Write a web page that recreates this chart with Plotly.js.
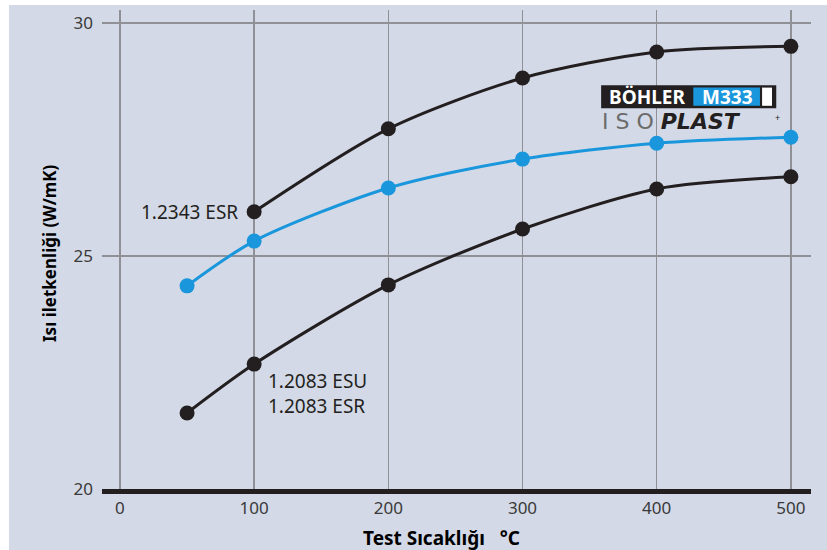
<!DOCTYPE html>
<html>
<head>
<meta charset="utf-8">
<script src="https://cdn.plot.ly/plotly-3.0.1.min.js"></script>
<style>
html,body{margin:0;padding:0;background:#ffffff;}
#chart{position:absolute;left:9px;top:5px;width:818px;height:545px;}
</style>
</head>
<body>
<div id="chart"></div>
<script>
// Data
const tempTop = [100, 200, 300, 400, 500];
const valTop = [25.95, 27.73, 28.82, 29.38, 29.50];          // 1.2343 ESR
const tempBlue = [50, 100, 200, 300, 400, 500];
const valBlue = [24.36, 25.32, 26.46, 27.08, 27.42, 27.55];   // BÖHLER M333 ISOPLAST
const tempLow = [50, 100, 200, 300, 400, 500];
const valLow = [21.63, 22.68, 24.38, 25.58, 26.44, 26.70];    // 1.2083 ESU / ESR
const xTicks = [0, 100, 200, 300, 400, 500];
const yTicks = [20, 25, 30];
const labelTop = "1.2343 ESR";
const labelLow = "1.2083 ESU<br>1.2083 ESR";
const xTitle = "Test Sıcaklığı   °C";
const yTitle = "Isı iletkenliği (W/mK)";

const BLACK = "#231f20";
const BLUE = "#1a97dc";
const BG = "#d3d9e6";
const FONT = "Noto Sans, Open Sans, sans-serif";

function series(x, y, color) {
  return {
    x: x, y: y, type: "scatter", mode: "lines+markers",
    line: {color: color, width: 3, shape: "spline", smoothing: 0.8},
    marker: {color: color, size: 15},
    hoverinfo: "skip", showlegend: false
  };
}

const data = [
  series(tempLow, valLow, BLACK),
  series(tempTop, valTop, BLACK),
  series(tempBlue, valBlue, BLUE)
];

const layout = {
  width: 818, height: 545,
  paper_bgcolor: BG, plot_bgcolor: BG,
  margin: {l: 93, r: 16, t: 5, b: 61, pad: 0},
  font: {family: FONT, color: "#3a3a3a", size: 17},
  showlegend: false,
  xaxis: {
    range: [-13.4, 515], tickvals: xTicks, ticktext: xTicks.map(String),
    showgrid: true, gridcolor: "#8f9196", gridwidth: 1.5,
    zeroline: false, showline: true, linecolor: BLACK, linewidth: 5,
    ticks: "", ticklen: 0, tickfont: {family: FONT, size: 17, color: "#3a3a3a"},
    fixedrange: true
  },
  yaxis: {
    range: [20, 30.28], tickvals: yTicks, ticktext: yTicks.map(String),
    showgrid: true, gridcolor: "#8f9196", gridwidth: 1.5,
    zeroline: false, showline: false,
    ticks: "", ticklabelstandoff: 8, tickfont: {family: FONT, size: 17, color: "#3a3a3a"},
    fixedrange: true
  },
  shapes: [
    // logo black bar
    {type: "rect", xref: "paper", yref: "paper", x0: 0.704, x1: 0.951, y0: 0.795, y1: 0.843, fillcolor: BLACK, line: {width: 0}},
    {type: "rect", xref: "paper", yref: "paper", x0: 0.834, x1: 0.928, y0: 0.800, y1: 0.838, fillcolor: BLUE, line: {width: 0}},
    {type: "rect", xref: "paper", yref: "paper", x0: 0.931, x1: 0.945, y0: 0.800, y1: 0.838, fillcolor: "#ffffff", line: {width: 0}}
  ],
  annotations: [
    {x: 100, y: valTop[0], xref: "x", yref: "y", text: labelTop, showarrow: false,
     xanchor: "right", yanchor: "middle", xshift: -14, font: {family: FONT, size: 19, color: BLACK}},
    {x: 100, y: valLow[1], xref: "x", yref: "y", text: labelLow, showarrow: false, align: "left",
     xanchor: "left", yanchor: "top", xshift: 12, yshift: -2, font: {family: FONT, size: 19, color: BLACK}},
    {x: (441 - 102) / 709, y: -0.072, xref: "paper", yref: "paper", text: "<b>" + xTitle + "</b>", showarrow: false,
     xanchor: "center", yanchor: "top", font: {family: FONT, size: 19, color: "#000000"}},
    {x: (50 - 102) / 709, y: (489 - 253) / 479, xref: "paper", yref: "paper", text: "<b>" + yTitle + "</b>", showarrow: false,
     textangle: -90, xanchor: "center", yanchor: "middle", font: {family: FONT, size: 17, color: "#000000"}},
    // logo text
    {x: (647 - 102) / 709, y: (489 - 97) / 479, xref: "paper", yref: "paper", text: "<b>BÖHLER</b>", showarrow: false,
     xanchor: "center", yanchor: "middle", font: {family: FONT, size: 19, color: "#ffffff"}},
    {x: (727 - 102) / 709, y: (489 - 97) / 479, xref: "paper", yref: "paper", text: "<b>M333</b>", showarrow: false,
     xanchor: "center", yanchor: "middle", font: {family: FONT, size: 19, color: "#ffffff"}},
    {x: (600 - 102) / 709, y: (489 - 121) / 479, xref: "paper", yref: "paper",
     text: "<span style='color:#6b6b6b'>I S O </span><b><i>PLAST</i></b>", showarrow: false,
     xanchor: "left", yanchor: "middle", font: {family: "DejaVu Sans, sans-serif", size: 22, color: BLACK}},
    {x: (777 - 102) / 709, y: (489 - 117) / 479, xref: "paper", yref: "paper",
     text: "+", showarrow: false,
     xanchor: "center", yanchor: "middle", font: {family: FONT, size: 9, color: BLACK}}
  ]
};

Plotly.newPlot("chart", data, layout, {displayModeBar: false, staticPlot: true});
</script>
</body>
</html>
